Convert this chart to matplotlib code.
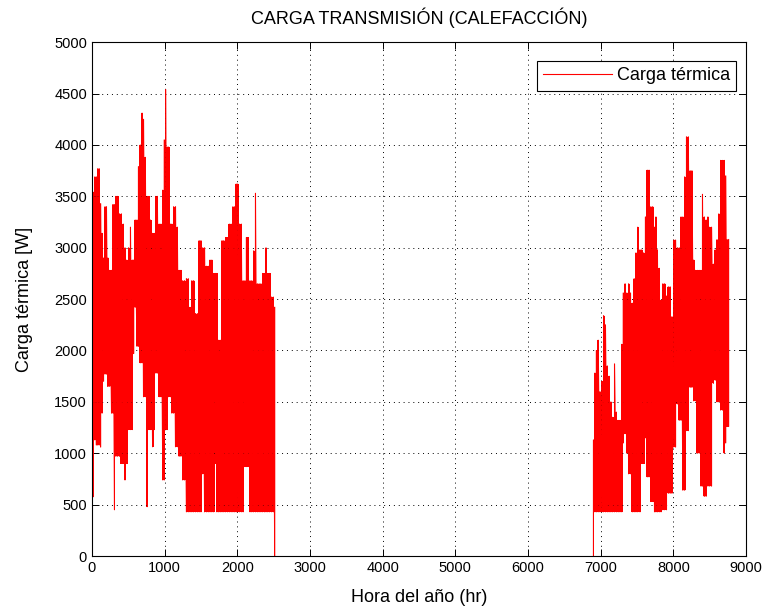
import numpy as np
import matplotlib
matplotlib.use("Agg")
import matplotlib.pyplot as plt

# Heating load envelope per ~day: hour, daily peak and daily minimum [W]
winter_hours = [0, 20, 40, 60, 80, 100, 120, 140, 160, 180, 200, 220, 245, 270, 290,
                310, 330, 355, 380, 405, 430, 455, 480, 505, 530, 555, 575, 595, 620,
                640, 665, 690, 710, 735, 760, 785, 805, 835, 860, 880, 900, 925, 950,
                975, 995, 1015, 1035, 1055, 1080, 1100, 1125, 1150, 1175, 1200, 1225,
                1250, 1275, 1300, 1325, 1350, 1375, 1400, 1425, 1450, 1475, 1500, 1525,
                1550, 1575, 1600, 1625, 1650, 1675, 1700, 1720, 1745, 1765, 1790, 1815,
                1840, 1865, 1890, 1915, 1940, 1965, 1985, 2005, 2030, 2055, 2080, 2105,
                2125, 2150, 2175, 2200, 2225, 2250, 2275, 2300, 2325, 2350, 2375, 2395,
                2420, 2445, 2470, 2495, 2515]
winter_hi = [3540, 3540, 3690, 3690, 3770, 3770, 3430, 3140, 2900, 3400, 3400, 2900, 2780,
             2780, 3420, 3420, 3500, 3500, 3330, 3330, 3230, 3000, 2880, 3000, 3200, 2880,
             2880, 3270, 3270, 3790, 4000, 4310, 4250, 3880, 3500, 3500, 3270, 3140, 3140,
             3500, 3500, 3230, 3230, 3560, 4050, 4540, 3980, 3980, 3230, 3230, 3400, 3400,
             3200, 2780, 2780, 2680, 2680, 2700, 2700, 2420, 2680, 2680, 2360, 2360, 3070,
             3070, 3000, 3000, 2820, 2820, 2880, 2880, 2750, 2750, 2750, 2100, 2100, 3070,
             3070, 3100, 3100, 3230, 3230, 3400, 3400, 3620, 3620, 3230, 3230, 2680, 2680,
             3100, 3100, 2680, 2680, 2970, 3530, 2650, 2650, 2650, 2750, 2750, 3000, 2750,
             2750, 2520, 2520, 2420]
winter_lo = [1100, 577, 1130, 1080, 1080, 1080, 1060, 1390, 1700, 1770, 1770, 1650, 1650,
             1390, 1390, 450, 970, 970, 970, 900, 900, 740, 900, 1230, 1230, 1230, 1970,
             2420, 2040, 2040, 1880, 1880, 1550, 1550, 480, 1230, 1230, 1063, 1230, 1780,
             1780, 1550, 1550, 740, 740, 1230, 1230, 1550, 1550, 1390, 1390, 1063, 1063,
             970, 970, 740, 740, 430, 430, 430, 430, 430, 430, 430, 430, 430, 800, 430,
             430, 430, 430, 430, 430, 900, 430, 430, 430, 430, 430, 430, 430, 430, 430,
             430, 430, 430, 430, 430, 430, 430, 870, 870, 870, 430, 430, 430, 430, 430,
             430, 430, 430, 430, 430, 430, 430, 430, 430, 0]

autumn_hours = [6900, 6920, 6940, 6965, 6990, 7015, 7040, 7065, 7090, 7115, 7140, 7165,
                7190, 7215, 7240, 7265, 7290, 7310, 7335, 7360, 7385, 7410, 7435, 7460,
                7485, 7510, 7540, 7565, 7590, 7615, 7640, 7665, 7690, 7715, 7740, 7760,
                7780, 7805, 7830, 7855, 7880, 7905, 7930, 7955, 7980, 8005, 8030, 8055,
                8080, 8105, 8130, 8155, 8180, 8205, 8230, 8255, 8280, 8305, 8330, 8355,
                8380, 8400, 8425, 8450, 8475, 8500, 8525, 8550, 8575, 8600, 8625, 8650,
                8675, 8700, 8720, 8740, 8760]
autumn_hi = [1130, 1780, 2000, 2100, 1600, 1700, 2340, 2250, 1850, 1750, 1500, 1350,
             1870, 1400, 1320, 1320, 2060, 2560, 2650, 2560, 2650, 2560, 2460, 2700,
             2950, 3200, 2980, 2980, 2950, 3300, 3755, 3755, 3400, 3400, 3200, 3300,
             2980, 2800, 2490, 2650, 2650, 2530, 2620, 2620, 2330, 3075, 3075, 3000,
             3000, 3300, 3300, 3690, 4080, 4080, 3750, 3750, 2880, 2780, 2780, 2780,
             2780, 3520, 3300, 3270, 3300, 3200, 3200, 2840, 2980, 3080, 3330, 3850,
             3850, 3850, 3700, 3080, 3080]
autumn_lo = [0, 430, 430, 430, 430, 430, 430, 430, 430, 430, 430, 430,
             430, 430, 430, 430, 430, 1100, 1190, 1000, 800, 800, 430, 430,
             430, 430, 430, 900, 900, 1150, 770, 770, 530, 530, 430, 430,
             430, 430, 430, 450, 450, 450, 610, 610, 610, 1060, 1060, 1480,
             1320, 1320, 640, 640, 1220, 1220, 1640, 1640, 1510, 1510, 1000, 1000,
             680, 680, 580, 580, 680, 680, 680, 1680, 1710, 1500, 1500, 1420,
             1420, 1000, 1100, 1260, 1260]

RED = (1, 0, 0)


def daily_trace(hours, hi, lo):
    # each day is a vertical swing from the minimum to the peak
    x = np.repeat(np.asarray(hours, float), 2)
    y = np.column_stack([lo, hi]).ravel().astype(float)
    return x, y


plt.rcParams['font.family'] = ['Liberation Sans', 'DejaVu Sans']
fig = plt.figure(figsize=(7.66, 6.12), dpi=100)
ax = fig.add_axes([0.120, 0.0915, 0.854, 0.8395])

# the hourly swings are so dense they merge into a solid band
for hours, hi, lo in [(winter_hours, winter_hi, winter_lo),
                      (autumn_hours, autumn_hi, autumn_lo)]:
    ax.fill_between(hours, lo, hi, step='mid', color=RED, linewidth=0)

xa, ya = daily_trace(winter_hours, winter_hi, winter_lo)
xb, yb = daily_trace(autumn_hours, autumn_hi, autumn_lo)
x = np.concatenate([xa, [np.nan], xb])
y = np.concatenate([ya, [np.nan], yb])
ax.plot(x, y, color=RED, linewidth=0.8, label='Carga térmica')

ax.set_xlim(0, 9000)
ax.set_ylim(0, 5000)
ax.set_xticks(np.arange(0, 9001, 1000))
ax.set_yticks(np.arange(0, 5001, 500))
ax.grid(True, color='black', linestyle=(0, (1, 4)), linewidth=0.7)
ax.tick_params(direction='in', top=True, right=True, labelsize=10.5, length=5, width=0.7)
for s in ax.spines.values():
    s.set_linewidth(0.8)

ax.set_title('CARGA TRANSMISIÓN (CALEFACCIÓN)', fontsize=13, pad=13)
ax.set_xlabel('Hora del año (hr)', fontsize=13, labelpad=10)
ax.set_ylabel('Carga térmica [W]', fontsize=13, labelpad=15)

leg = ax.legend(loc='upper right', fontsize=13, fancybox=False, framealpha=1,
                edgecolor='black', borderpad=0.35, handlelength=3.8,
                handletextpad=0.3, bbox_to_anchor=(0.999, 0.981))
leg.get_frame().set_linewidth(0.8)

fig.savefig('out.png', dpi=100)
